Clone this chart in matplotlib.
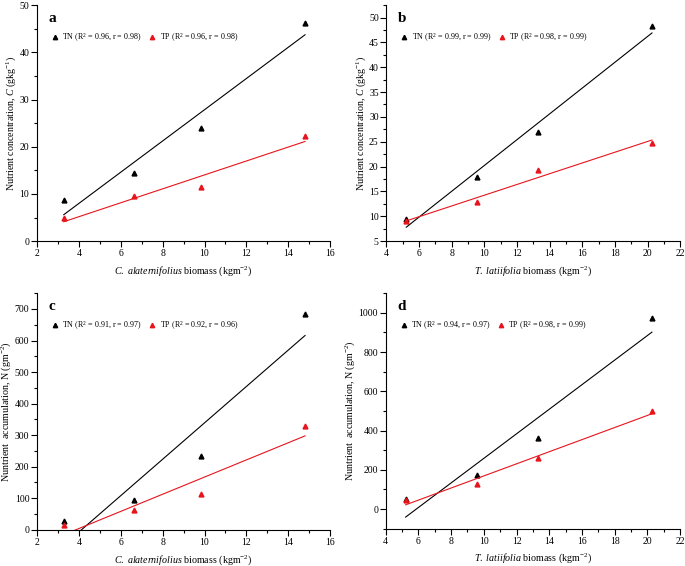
import numpy as np
import matplotlib
matplotlib.use('Agg')
import matplotlib.pyplot as plt
from matplotlib.ticker import AutoMinorLocator, MultipleLocator

plt.rcParams['font.family'] = 'Liberation Serif'
plt.rcParams['mathtext.fontset'] = 'custom'
plt.rcParams['mathtext.rm'] = 'Liberation Serif'
plt.rcParams['mathtext.it'] = 'Liberation Serif:italic'
plt.rcParams['mathtext.bf'] = 'Liberation Serif:bold'

# biomass of the two plants
x_cal = [3.28, 6.65, 9.85, 14.8]
x_tla = [5.22, 9.58, 13.3, 20.27]

# nutrient concentration (g/kg)
conc_tn_cal = [8.7, 14.4, 24.0, 46.3]
conc_tp_cal = [4.8, 9.5, 11.5, 22.3]
conc_tn_tla = [9.5, 17.9, 27.0, 48.2]
conc_tp_tla = [9.0, 12.9, 19.3, 24.8]

# nutrient accumulation (g/m2)
acc_tn_cal = [28, 95, 235, 685]
acc_tp_cal = [15, 63, 113, 330]
acc_tn_tla = [50, 172, 360, 975]
acc_tp_tla = [48, 125, 260, 500]

stats = {
    'a': ['TN (R$^2$ = 0.96, r = 0.98)', 'TP (R$^2$ = 0.96, r = 0.98)'],
    'b': ['TN (R$^2$ = 0.99, r = 0.99)', 'TP (R$^2$ = 0.98, r = 0.99)'],
    'c': ['TN (R$^2$ = 0.91, r = 0.97)', 'TP (R$^2$ = 0.92, r = 0.96)'],
    'd': ['TN (R$^2$ = 0.94, r = 0.97)', 'TP (R$^2$ = 0.98, r = 0.99)'],
}

xlab_cal = r'$\it{C.\ alaternifolius}$ biomass (kgm$^{-2}$)'
xlab_tla = r'$\it{T.\ latiifolia}$ biomass (kgm$^{-2}$)'
ylab_conc = r'Nutrient concentration, $\it{C}$ (gkg$^{-1}$)'
ylab_acc = r'Nuntrient  accumulation, N (gm$^{-2}$)'

fig = plt.figure(figsize=(6.85, 5.66), dpi=100)
ax_a = fig.add_axes([0.054, 0.574, 0.428, 0.417])
ax_b = fig.add_axes([0.564, 0.574, 0.429, 0.417])
ax_c = fig.add_axes([0.054, 0.064, 0.428, 0.418])
ax_d = fig.add_axes([0.563, 0.066, 0.430, 0.416])

red = '#e8141c'


def panel(ax, letter, x, tn, tp, xlab, ylab, xlim, ylim, xstep, ystep):
    x = np.array(x)
    h1, = ax.plot(x, tn, '^', color='black', ms=3.5, lw=0)
    h2, = ax.plot(x, tp, '^', color=red, ms=3.5, lw=0)
    for y, c in [(tn, 'black'), (tp, red)]:
        k, b = np.polyfit(x, y, 1)
        ax.plot(x[[0, -1]], k * x[[0, -1]] + b, color=c, lw=0.8)
    ax.set_xlim(*xlim)
    ax.set_ylim(*ylim)
    ax.xaxis.set_major_locator(MultipleLocator(xstep))
    ax.yaxis.set_major_locator(MultipleLocator(ystep))
    ax.xaxis.set_minor_locator(AutoMinorLocator(2))
    ax.yaxis.set_minor_locator(AutoMinorLocator(2))
    ax.spines['top'].set_visible(False)
    ax.spines['right'].set_visible(False)
    ax.tick_params(which='major', length=4, width=0.8, labelsize=7, pad=2)
    ax.tick_params(axis='y', which='major', pad=1.5)
    ax.tick_params(which='minor', length=2.5, width=0.8)
    ax.set_xlabel(xlab, fontsize=7.2, labelpad=4)
    ax.set_ylabel(ylab, fontsize=7.2, labelpad=0.8)
    ax.text(0.04, 0.97, letter, transform=ax.transAxes, fontsize=11,
            fontweight='bold', va='top', ha='left')
    ax.legend([h1, h2], stats[letter], loc='upper left',
              bbox_to_anchor=(0.02, 0.92), ncol=2, frameon=False,
              fontsize=5.8, handletextpad=0.3, columnspacing=0.7,
              handlelength=1.2, markerscale=0.9)


panel(ax_a, 'a', x_cal, conc_tn_cal, conc_tp_cal, xlab_cal, ylab_conc,
      (2, 16), (0, 50), 2, 10)
panel(ax_b, 'b', x_tla, conc_tn_tla, conc_tp_tla, xlab_tla, ylab_conc,
      (4, 22), (5, 52.5), 2, 5)
panel(ax_c, 'c', x_cal, acc_tn_cal, acc_tp_cal, xlab_cal, ylab_acc,
      (2, 16), (0, 750), 2, 100)
panel(ax_d, 'd', x_tla, acc_tn_tla, acc_tp_tla, xlab_tla, ylab_acc,
      (4, 22), (-100, 1100), 2, 200)

fig.savefig('out.png', dpi=100)
